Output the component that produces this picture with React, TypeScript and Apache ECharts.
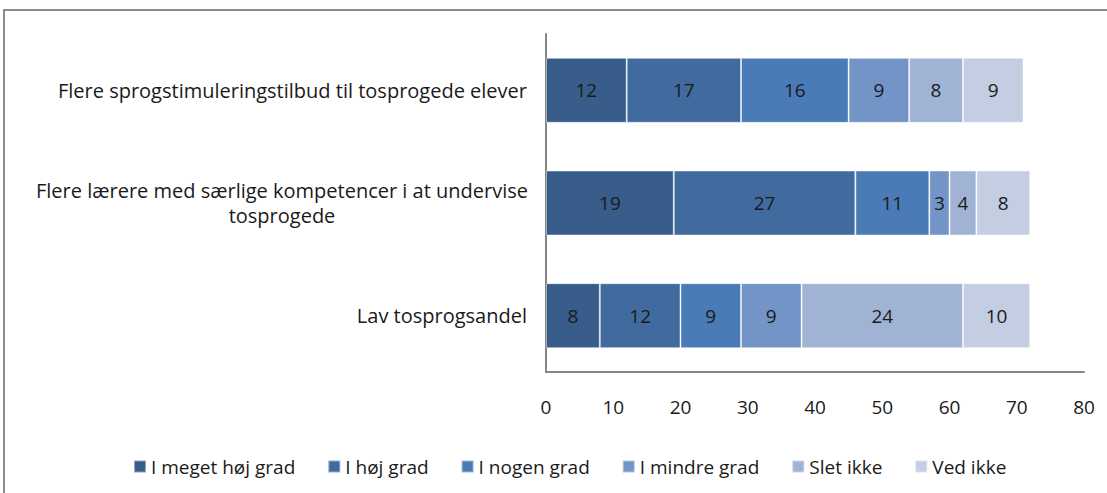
import React, { useEffect, useRef } from "react";
import * as echarts from "echarts";

const categories = [
  "Flere sprogstimuleringstilbud til tosprogede elever",
  "Flere lærere med særlige kompetencer i at undervise\ntosprogede",
  "Lav tosprogsandel",
];
const seriesNames = ["I meget høj grad", "I høj grad", "I nogen grad", "I mindre grad", "Slet ikke", "Ved ikke"];
const meget = [12, 19, 8];
const hoej = [17, 27, 12];
const nogen = [16, 11, 9];
const mindre = [9, 3, 9];
const slet = [8, 4, 24];
const vedIkke = [9, 8, 10];
const xTicks = [0, 10, 20, 30, 40, 50, 60, 70, 80];

const colors = ["#385D8A", "#416B9F", "#4A7BB7", "#7394C6", "#A0B3D5", "#C3CEE3"];
const FONT = "Open Sans";
const FS = 19;
const CAT_FS = 20;

export default function App() {
  const ref = useRef<HTMLDivElement>(null);
  useEffect(() => {
    if (!ref.current) return;
    const chart = echarts.init(ref.current, undefined, { renderer: "svg" });
    const values = [meget, hoej, nogen, mindre, slet, vedIkke];
    chart.setOption({
      animation: false,
      textStyle: { fontFamily: FONT },
      graphic: [
        {
          type: "rect",
          shape: { x: 4, y: 10, width: 1200, height: 600 },
          style: { fill: "none", stroke: "#8c8c8c", lineWidth: 2 },
          silent: true,
        },
      ],
      legend: {
        left: 128,
        top: 452,
        itemWidth: 12,
        itemHeight: 12,
        itemGap: 32,
        icon: "rect",
        textStyle: { fontFamily: FONT, fontSize: FS, color: "#1a1a1a" },
        data: seriesNames,
      },
      grid: { left: 546, right: 23, top: 34, bottom: 121, containLabel: false },
      xAxis: {
        type: "value",
        min: xTicks[0],
        max: xTicks[xTicks.length - 1],
        interval: 10,
        axisLine: { show: true, lineStyle: { color: "#868686", width: 2 } },
        axisTick: { show: false },
        splitLine: { show: false },
        axisLabel: { fontFamily: FONT, fontSize: FS, color: "#1a1a1a", margin: 25 },
      },
      yAxis: {
        type: "category",
        inverse: true,
        data: categories,
        axisLine: { show: true, lineStyle: { color: "#868686", width: 2 } },
        axisTick: { show: false },
        axisLabel: {
          fontFamily: FONT,
          fontSize: CAT_FS,
          color: "#1a1a1a",
          margin: 19,
          lineHeight: 25,
          formatter: (v: string) => {
            if (v.indexOf("\n") >= 0) {
              const parts = v.split("\n");
              return parts.map((p) => "{c|" + p + "}").join("\n");
            }
            return v;
          },
          rich: {
            c: { width: 490, align: "center", fontFamily: FONT, fontSize: CAT_FS, color: "#1a1a1a", lineHeight: 25 },
          },
        },
      },
      series: seriesNames.map((name, i) => ({
        name,
        type: "bar",
        stack: "total",
        barWidth: 65,
        data: values[i],
        itemStyle: { color: colors[i], borderColor: "rgba(255,255,255,0.45)", borderWidth: 1 },
        label: {
          show: true,
          position: "inside",
          fontFamily: FONT,
          fontSize: FS,
          color: "#1a1a1a",
        },
      })),
    });
    return () => chart.dispose();
  }, []);
  return <div ref={ref} style={{ width: 1107, height: 493, position: "absolute", left: 0, top: 0 }} />;
}
